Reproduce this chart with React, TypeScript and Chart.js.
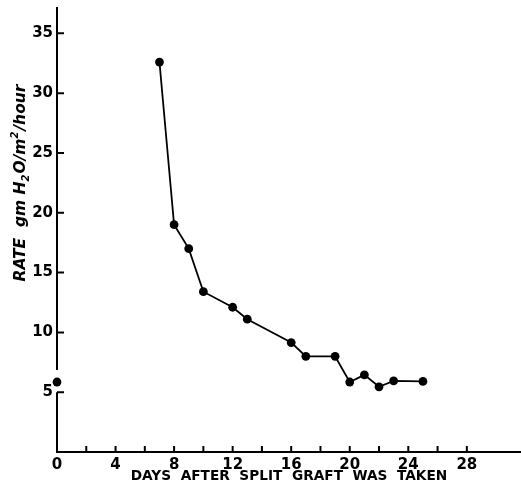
import React, { useEffect, useRef } from "react";
import { Chart, registerables } from "chart.js";

Chart.register(...registerables);

// Data
const days = [7, 8, 9, 10, 12, 13, 16, 17, 19, 20, 21, 22, 23, 25];
const rates = [32.6, 19.0, 17.0, 13.4, 12.1, 11.1, 9.15, 8.0, 8.0, 5.85, 6.45, 5.45, 5.95, 5.9];
const baselineDays = [0];
const baselineRates = [5.85];

const xTickLabels = [0, 4, 8, 12, 16, 20, 24, 28];
const xTickMarks = [2, 4, 6, 8, 10, 12, 14, 16, 18, 20, 22, 24, 26, 28];
const yTickLabels = [5, 10, 15, 20, 25, 30, 35];
const yAxisSegments = [
  [0, 5],
  [6.85, 37.2],
];

const xTitle = "DAYS  AFTER  SPLIT  GRAFT  WAS  TAKEN";
// y title as runs: [text, kind] where kind is normal / sub / sup
const yTitleRuns: [string, string][] = [
  ["RATE  gm H", "n"],
  ["2", "sub"],
  ["O/m", "n"],
  ["2", "sup"],
  ["/hour", "n"],
];

const X_MAX = 31.7;
const Y_MAX = 37.2;

const FONT = "'DejaVu Sans', sans-serif";

const axesPlugin = {
  id: "customAxes",
  afterDraw(chart: any) {
    const { ctx } = chart;
    const xs = chart.scales.x;
    const ys = chart.scales.y;
    const x0 = xs.getPixelForValue(0);
    const yb = ys.getPixelForValue(0);
    ctx.save();
    ctx.strokeStyle = "#000";
    ctx.lineWidth = 2;
    ctx.lineCap = "butt";
    ctx.beginPath();
    ctx.moveTo(x0 - 1, yb);
    ctx.lineTo(xs.getPixelForValue(X_MAX), yb);
    for (const [a, b] of yAxisSegments) {
      ctx.moveTo(x0, ys.getPixelForValue(a) + (a === 0 ? 1 : 0));
      ctx.lineTo(x0, ys.getPixelForValue(b));
    }
    for (const v of xTickMarks) {
      const px = xs.getPixelForValue(v);
      ctx.moveTo(px, yb);
      ctx.lineTo(px, yb - 6);
    }
    for (const v of yTickLabels) {
      const py = ys.getPixelForValue(v);
      ctx.moveTo(x0, py);
      ctx.lineTo(x0 + 7, py);
    }
    ctx.stroke();

    // y axis title with real sub/superscripts
    const big = `italic bold 15.5px ${FONT}`;
    const small = `italic bold 10px ${FONT}`;
    let total = 0;
    const widths: number[] = [];
    for (const [t, k] of yTitleRuns) {
      ctx.font = k === "n" ? big : small;
      const w = ctx.measureText(t).width + (k === "n" ? 0 : 1);
      widths.push(w);
      total += w;
    }
    ctx.translate(20, 183);
    ctx.rotate(-Math.PI / 2);
    ctx.fillStyle = "#000";
    ctx.textBaseline = "alphabetic";
    ctx.textAlign = "left";
    let cx = -total / 2;
    yTitleRuns.forEach(([t, k], i) => {
      ctx.font = k === "n" ? big : small;
      const dy = k === "sub" ? 4 : k === "sup" ? -7 : 0;
      ctx.fillText(t, cx, 5 + dy);
      cx += widths[i];
    });
    ctx.restore();
  },
};

export default function App() {
  const ref = useRef<HTMLCanvasElement | null>(null);
  useEffect(() => {
    if (!ref.current) return;
    const chart = new Chart(ref.current, {
      type: "line",
      data: {
        datasets: [
          {
            data: days.map((d, i) => ({ x: d, y: rates[i] })),
            borderColor: "#000",
            backgroundColor: "#000",
            borderWidth: 1.8,
            pointRadius: 4.4,
            pointHoverRadius: 4.4,
            pointBackgroundColor: "#000",
            pointBorderWidth: 0,
            tension: 0,
            clip: false,
          },
          {
            data: baselineDays.map((d, i) => ({ x: d, y: baselineRates[i] })),
            showLine: false,
            borderColor: "#000",
            backgroundColor: "#000",
            pointRadius: 4.4,
            pointBackgroundColor: "#000",
            pointBorderWidth: 0,
            clip: false,
          },
        ],
      },
      options: {
        animation: false,
        responsive: true,
        maintainAspectRatio: false,
        layout: { autoPadding: false, padding: { top: 7, right: 0, left: 0, bottom: 0 } },
        plugins: { legend: { display: false }, tooltip: { enabled: false } },
        scales: {
          x: {
            type: "linear",
            min: 0,
            max: X_MAX,
            grid: { display: false, drawTicks: false },
            border: { display: false },
            afterBuildTicks: (scale: any) => {
              scale.ticks = xTickLabels.map((v) => ({ value: v }));
            },
            afterFit: (scale: any) => {
              scale.height = 46;
              scale.paddingLeft = 0;
              scale.paddingRight = 0;
            },
            ticks: {
              color: "#000",
              padding: 4,
              maxRotation: 0,
              autoSkip: false,
              font: { family: FONT, size: 15, weight: "bold" },
            },
            title: {
              display: true,
              text: xTitle,
              color: "#000",
              font: { family: FONT, size: 13.7, weight: "bold" },
              padding: { top: 0, bottom: 13 },
            },
          },
          y: {
            type: "linear",
            min: 0,
            max: Y_MAX,
            grid: { display: false, drawTicks: false },
            border: { display: false },
            afterBuildTicks: (scale: any) => {
              scale.ticks = yTickLabels.map((v) => ({ value: v }));
            },
            afterFit: (scale: any) => {
              scale.width = 57;
              scale.paddingTop = 0;
              scale.paddingBottom = 0;
            },
            ticks: {
              color: "#000",
              padding: 4,
              autoSkip: false,
              font: { family: FONT, size: 15, weight: "bold" },
            },
            title: { display: false },
          },
        },
      },
      plugins: [axesPlugin],
    });
    return () => chart.destroy();
  }, []);
  return (
    <div style={{ position: "absolute", left: 0, top: 0, width: 521, height: 498, background: "#fff" }}>
      <canvas ref={ref} />
    </div>
  );
}
